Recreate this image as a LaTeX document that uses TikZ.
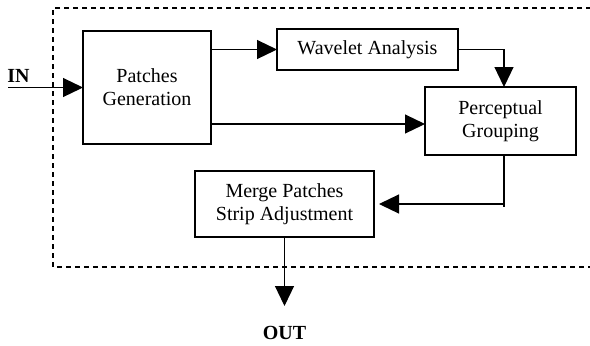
\documentclass[tikz,border=0pt]{standalone}
\usepackage{fontspec}
\setmainfont{Liberation Serif}
\usetikzlibrary{arrows.meta}
\begin{document}
\begin{tikzpicture}[x=0.5pt,y=-0.5pt,
  every node/.style={font=\fontsize{10}{11.5}\selectfont},
  blk/.style={draw,line width=0.6pt,align=center,inner sep=0pt,outer sep=0pt},
  conn/.style={line width=0.6pt,-{Triangle[length=10pt,width=9.5pt]}},
  plain/.style={line width=0.6pt},
  frame/.style={line width=0.6pt,dash pattern=on 2.5pt off 2pt}]
\useasboundingbox (0,0) rectangle (590,345);
\draw[frame] (600,8) -- (53,8) -- (53,267) -- (600,267);
\node[blk,minimum width=64pt,minimum height=56.5pt] (pg) at (147,87.5) {Patches\\Generation};
\node[blk,minimum width=90.5pt,minimum height=20.5pt] (wa) at (367.5,49.5) {Wavelet Analysis};
\node[blk,minimum width=75.5pt,minimum height=34pt] (pc) at (500.5,121) {Perceptual\\Grouping};
\node[blk,minimum width=89.5pt,minimum height=33pt] (mp) at (284.5,204) {Merge Patches\\Strip Adjustment};
\coordinate (in) at (8,87.5);
\node[font=\fontsize{10}{12}\selectfont\bfseries,anchor=south west,inner sep=0pt] (inl) at (7,83) {IN};
\draw[conn] (in) -- (pg.west);
\draw[conn] (pg.east |- wa.west) -- (wa.west);
\draw[conn] (wa.east) -| ([xshift=1.75pt]pc.north);
\draw[conn] (pg.east |- 0,124) -- (pc.west |- 0,124);
\coordinate (bend) at ([xshift=1.75pt]pc.south |- mp.east);
\draw[plain] ([xshift=1.75pt]pc.south) -- ([yshift=-1.5pt]bend);
\draw[conn,shorten >=2.5pt] (bend) -- (mp.east);
\coordinate (out) at (284.5,306);
\draw[conn] (mp.south) -- (out);
\node[font=\fontsize{10}{12}\selectfont\bfseries] (outl) at (284.5,333) {OUT};
\end{tikzpicture}
\end{document}
